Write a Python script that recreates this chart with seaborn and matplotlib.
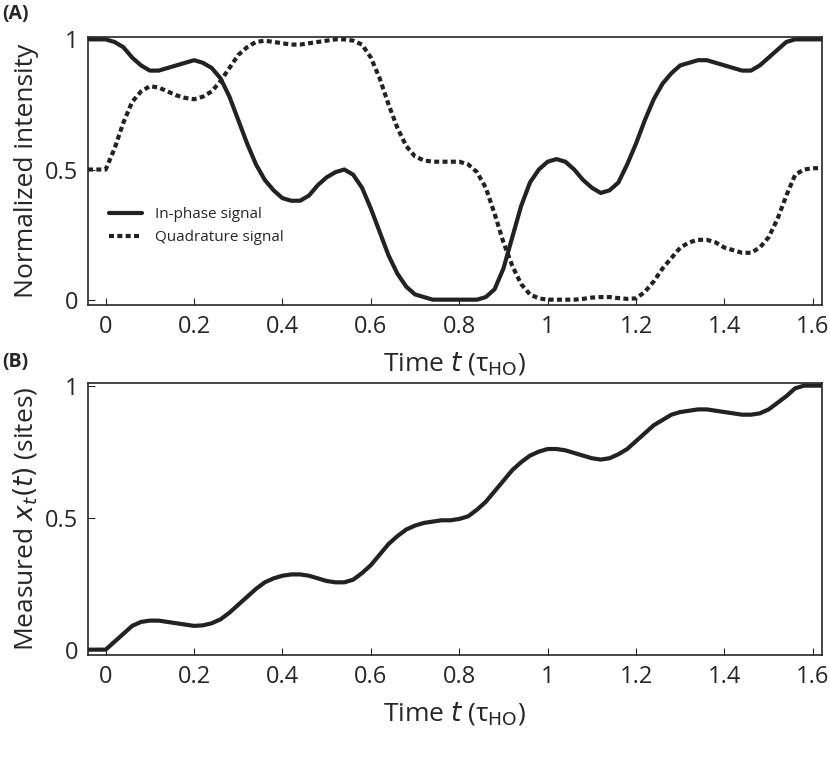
import numpy as np
import matplotlib
matplotlib.use("Agg")
import matplotlib.pyplot as plt
import seaborn as sns
import pandas as pd

sns.set_style("ticks")
plt.rcParams['font.family'] = ['Open Sans', 'DejaVu Sans']

t_a = list(np.round(np.arange(-0.04, 1.6201, 0.02), 2))
inphase = [1, 1, 1, 0.99, 0.97, 0.93, 0.90, 0.88, 0.88, 0.89,
           0.90, 0.91, 0.92, 0.91, 0.89, 0.85, 0.78, 0.69, 0.60, 0.52,
           0.46, 0.42, 0.39, 0.38, 0.38, 0.40, 0.44, 0.47, 0.49, 0.50,
           0.48, 0.43, 0.35, 0.26, 0.17, 0.10, 0.05, 0.02, 0.01, 0.0,
           0, 0, 0, 0, 0, 0.01, 0.04, 0.12, 0.24, 0.36,
           0.45, 0.50, 0.53, 0.54, 0.53, 0.50, 0.46, 0.43, 0.41, 0.42,
           0.45, 0.52, 0.60, 0.69, 0.77, 0.83, 0.87, 0.90, 0.91, 0.92,
           0.92, 0.91, 0.90, 0.89, 0.88, 0.88, 0.90, 0.93, 0.96, 0.99,
           1, 1, 1, 1]
quad = [.5, .5, .5, .58, .68, .76, .80, .82, .815, .80,
        .785, .775, .77, .78, .80, .84, .89, .94, .97, .99,
        .995, .99, .985, .98, .98, .985, .99, .995, 1.0, 1.0,
        .995, .98, .93, .85, .75, .66, .59, .55, .535, .53,
        .53, .53, .53, .52, .49, .43, .33, .22, .13, .06,
        .02, .005, 0, 0, 0, 0, .003, .008, .01, .01,
        .006, .003, .005, .03, .07, .12, .16, .20, .22, .23,
        .23, .22, .20, .19, .18, .18, .20, .24, .31, .40,
        .48, .50, .505, .505]
xt = [0, 0, 0, .03, .06, .09, .105, .11, .11, .105,
      .10, .095, .09, .092, .10, .115, .14, .17, .20, .23,
      .255, .27, .28, .285, .285, .28, .27, .26, .255, .255,
      .265, .29, .32, .36, .40, .43, .455, .47, .48, .485,
      .49, .49, .495, .505, .53, .56, .60, .64, .68, .71,
      .735, .75, .76, .76, .755, .745, .735, .725, .72, .725,
      .74, .76, .79, .82, .85, .87, .89, .90, .905, .91,
      .91, .905, .9, .895, .89, .89, .895, .91, .935, .96,
      .99, 1, 1, 1]

df = pd.DataFrame({"t": t_a, "In-phase signal": inphase, "Quadrature signal": quad, "x": xt})

fig = plt.figure(figsize=(8.3, 7.66), dpi=100)
axA = fig.add_axes([0.106, 0.602, 0.884, 0.350])
axB = fig.add_axes([0.106, 0.145, 0.884, 0.355])

sns.lineplot(data=df, x="t", y="In-phase signal", ax=axA, color="#222222", lw=3, label="In-phase signal")
sns.lineplot(data=df, x="t", y="Quadrature signal", ax=axA, color="#222222", lw=3, linestyle=(0, (1.2, 0.8)), label="Quadrature signal")
sns.lineplot(data=df, x="t", y="x", ax=axB, color="#222222", lw=3)

for ax in (axA, axB):
    ax.set_xlim(-0.04, 1.62)
    ax.set_ylim(-0.02, 1.01)
    ax.set_xticks([0, 0.2, 0.4, 0.6, 0.8, 1.0, 1.2, 1.4, 1.6])
    ax.set_xticklabels(["0", "0.2", "0.4", "0.6", "0.8", "1", "1.2", "1.4", "1.6"])
    ax.set_yticks([0, 0.5, 1])
    ax.set_yticklabels(["0", "0.5", "1"])
    ax.tick_params(direction="in", labelsize=17, length=5, pad=7, top=False, right=False)
    ax.set_xlabel(r"Time $t$ (τ$_{\mathrm{HO}}$)", fontsize=19, labelpad=8)
    for s in ax.spines.values():
        s.set_linewidth(1.2)

axA.set_ylabel("Normalized intensity", fontsize=19, labelpad=4)
axB.set_ylabel(r"Measured $x_t(t)$ (sites)", fontsize=19, labelpad=4)
axA.legend(loc=(0.02, 0.2), frameon=False, fontsize=11, handlelength=2.2)
fig.text(0.003, 0.995, "(A)", fontsize=14, fontweight="bold", va="top")
fig.text(0.003, 0.54, "(B)", fontsize=14, fontweight="bold", va="top")

fig.savefig("out.png", dpi=100)
